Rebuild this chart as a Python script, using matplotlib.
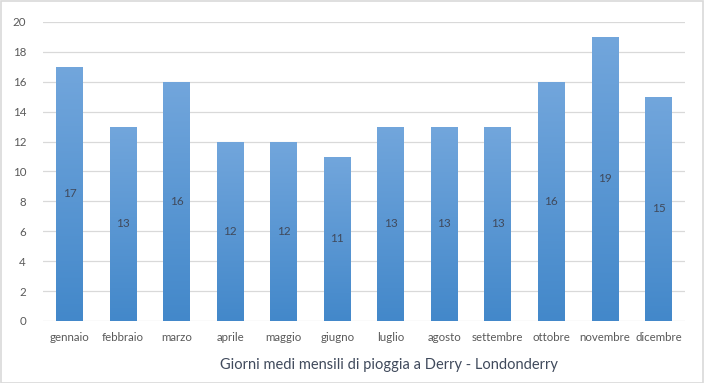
import numpy as np
import matplotlib.pyplot as plt
from matplotlib.colors import LinearSegmentedColormap

months = ["gennaio", "febbraio", "marzo", "aprile", "maggio", "giugno",
          "luglio", "agosto", "settembre", "ottobre", "novembre", "dicembre"]
rain_days = [17, 13, 16, 12, 12, 11, 13, 13, 13, 16, 19, 15]
y_ticks = [0, 2, 4, 6, 8, 10, 12, 14, 16, 18, 20]

plt.rcParams["font.family"] = ["Lato", "DejaVu Sans"]

fig = plt.figure(figsize=(7.04, 3.83), dpi=100)
fig.patches.append(plt.Rectangle((0.001, 0.001), 0.997, 0.996, transform=fig.transFigure,
                                 fill=False, edgecolor="#D9D9D9", linewidth=1.2))
ax = fig.add_axes([0.0607, 0.1619, 0.9127, 0.7807])

x = np.arange(len(months))
bars = ax.bar(x, rain_days, width=0.5, color="none", zorder=2)

# vertical gradient inside each bar
cmap = LinearSegmentedColormap.from_list("grad", ["#4388CA", "#72A6DC"])
grad = np.linspace(0, 1, 256).reshape(-1, 1)
for b in bars:
    x0, w, h = b.get_x(), b.get_width(), b.get_height()
    im = ax.imshow(grad, cmap=cmap, origin="lower", aspect="auto",
                   extent=(x0, x0 + w, 0, h), zorder=2)
    im.set_clip_path(b)
    ax.text(x0 + w / 2, h / 2, str(h), ha="center", va="center",
            fontsize=8.5, color="#404A5C", zorder=3)

ax.set_xlim(-0.5, len(months) - 0.5)
ax.set_ylim(0, 20)
ax.set_yticks(y_ticks)
ax.set_xticks(x)
ax.set_xticklabels(months)
ax.tick_params(axis="both", length=0, labelsize=8.3, labelcolor="#595959")
ax.tick_params(axis="y", pad=12)
ax.tick_params(axis="x", pad=8)
ax.grid(axis="y", color="#D9D9D9", linewidth=0.9, zorder=0)
for s in ax.spines.values():
    s.set_visible(False)

fig.text(0.553, 0.03, "Giorni medi mensili di pioggia a Derry - Londonderry",
         ha="center", va="bottom", fontsize=10.5, color="#404A5C")

fig.savefig("out.png", dpi=100)
